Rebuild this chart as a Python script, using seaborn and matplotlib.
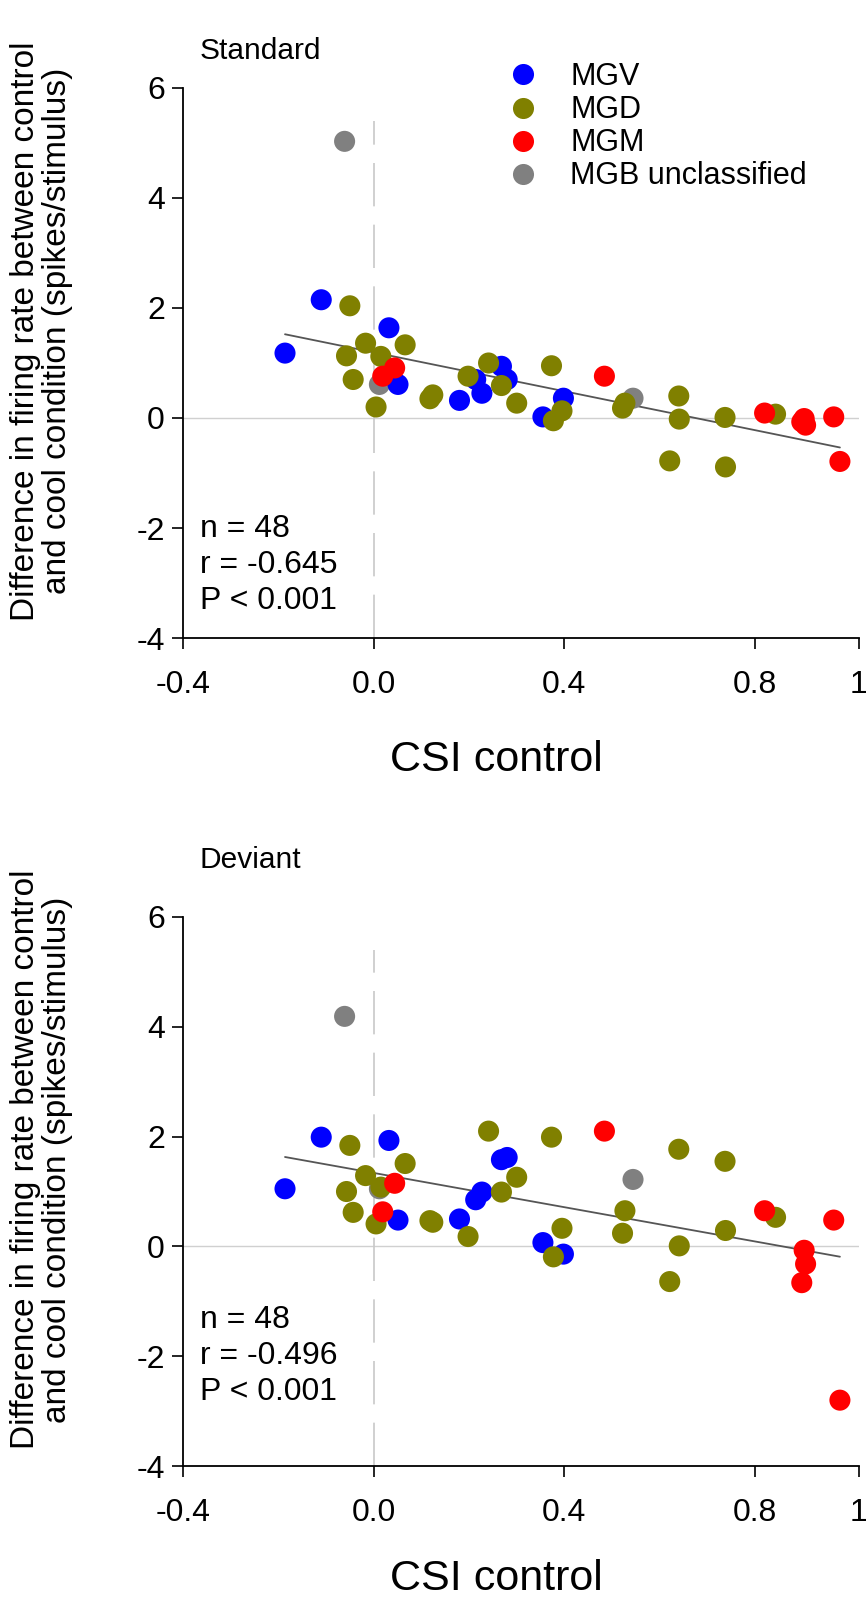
import numpy as np
import pandas as pd
import matplotlib
matplotlib.use("Agg")
import matplotlib.pyplot as plt
import seaborn as sns

# ==============================
# Data
# ==============================
mgv_csi = [-0.186, -0.110, 0.032, 0.051, 0.180, 0.214, 0.227, 0.268, 0.280, 0.355, 0.398]
mgv_std = [1.18, 2.15, 1.64, 0.61, 0.32, 0.70, 0.45, 0.94, 0.70, 0.02, 0.36]
mgv_dev = [1.05, 1.99, 1.93, 0.48, 0.50, 0.85, 0.99, 1.58, 1.62, 0.07, -0.14]

mgd_csi = [-0.050, -0.017, 0.066, -0.057, 0.015, -0.043, 0.005, 0.118, 0.124, 0.198, 0.241, 0.268,
           0.300, 0.373, 0.395, 0.377, 0.522, 0.527, 0.640, 0.641, 0.621, 0.737, 0.738, 0.843]
mgd_std = [2.04, 1.36, 1.33, 1.13, 1.12, 0.70, 0.20, 0.35, 0.42, 0.76, 1.00, 0.59,
           0.27, 0.95, 0.13, -0.05, 0.18, 0.27, 0.40, -0.02, -0.78, 0.01, -0.89, 0.07]
mgd_dev = [1.84, 1.29, 1.51, 1.00, 1.08, 0.62, 0.41, 0.47, 0.44, 0.18, 2.10, 0.99,
           1.26, 1.99, 0.33, -0.19, 0.24, 0.65, 1.77, 0.01, -0.64, 1.55, 0.29, 0.53]

mgm_csi = [0.044, 0.019, 0.484, 0.820, 0.903, 0.906, 0.898, 0.965, 0.978]
mgm_std = [0.91, 0.76, 0.76, 0.09, -0.01, -0.13, -0.07, 0.02, -0.79]
mgm_dev = [1.15, 0.63, 2.10, 0.65, -0.07, -0.32, -0.66, 0.48, -2.80]

unc_csi = [-0.061, 0.012, 0.544]
unc_std = [5.03, 0.61, 0.36]
unc_dev = [4.19, 1.05, 1.22]

groups = ["MGV", "MGD", "MGM", "MGB unclassified"]
colors = {"MGV": "#0000ff", "MGD": "#808000", "MGM": "#ff0000", "MGB unclassified": "#808080"}

# the right end of the x axis sits a little past 1.0 in the original
x_max = 1.018
x_ticks = [-0.4, 0.0, 0.4, 0.8, x_max]
x_ticklabels = ["-0.4", "0.0", "0.4", "0.8", "1"]
y_ticks = [-4, -2, 0, 2, 4, 6]
y_ticklabels = ["-4", "-2", "0", "2", "4", "6"]

stats_std = ["n = 48", "r = -0.645", "P < 0.001"]
stats_dev = ["n = 48", "r = -0.496", "P < 0.001"]

# drawing order: gray, blue, olive, red (red on top)
df = pd.concat([
    pd.DataFrame({"csi": unc_csi, "standard": unc_std, "deviant": unc_dev, "area": "MGB unclassified"}),
    pd.DataFrame({"csi": mgv_csi, "standard": mgv_std, "deviant": mgv_dev, "area": "MGV"}),
    pd.DataFrame({"csi": mgd_csi, "standard": mgd_std, "deviant": mgd_dev, "area": "MGD"}),
    pd.DataFrame({"csi": mgm_csi, "standard": mgm_std, "deviant": mgm_dev, "area": "MGM"}),
], ignore_index=True)

# ==============================
# Style
# ==============================
sns.set_theme(style="white")
plt.rcParams["font.family"] = ["Liberation Sans", "DejaVu Sans"]
for k in ["text.color", "axes.labelcolor", "xtick.color", "ytick.color"]:
    plt.rcParams[k] = "black"

fig = plt.figure(figsize=(8.66, 15.97), dpi=100)
ax_top = fig.add_axes([0.2113, 0.6005, 0.7806, 0.3444])
ax_bot = fig.add_axes([0.2113, 0.0820, 0.7806, 0.3438])

ylabel = "Difference in firing rate between control\nand cool condition (spikes/stimulus)"

panels = [
    # ax, column, title, title y, stats, stats y, xlabel y, legend
    (ax_top, "standard", "Standard", 1.052, stats_std, [0.184, 0.118, 0.053], -0.222, True),
    (ax_bot, "deviant", "Deviant", 1.09, stats_dev, [0.252, 0.186, 0.121], -0.205, False),
]

for ax, col, title, title_y, stats, stat_y, xlab_y, show_legend in panels:
    ax.axhline(0, color="#d0d0d0", lw=1.0, zorder=0)
    ax.axvline(0, ymin=0, ymax=0.94, color="#c8c8c8", lw=1.2, dashes=(26, 11), zorder=0)

    sns.scatterplot(data=df, x="csi", y=col, hue="area", hue_order=groups, palette=colors,
                    s=230, linewidth=0, edgecolor="none", alpha=1, ax=ax, legend=show_legend, zorder=3)
    sns.regplot(data=df, x="csi", y=col, scatter=False, ci=None, truncate=True, ax=ax,
                line_kws={"color": "#555555", "lw": 1.3, "zorder": 2})

    ax.set_xlim(-0.4, x_max)
    ax.set_ylim(-4, 6)
    ax.set_xticks(x_ticks)
    ax.set_xticklabels(x_ticklabels)
    ax.set_yticks(y_ticks)
    ax.set_yticklabels(y_ticklabels)
    ax.tick_params(axis="both", direction="out", length=8, width=1.2, color="black",
                   labelsize=23, bottom=True, left=True)
    ax.tick_params(axis="x", pad=15)
    ax.tick_params(axis="y", pad=5)

    sns.despine(ax=ax)
    for sp in ["left", "bottom"]:
        ax.spines[sp].set_color("black")
        ax.spines[sp].set_linewidth(1.3)

    ax.set_xlabel("CSI control", fontsize=31)
    ax.xaxis.set_label_coords(0.463, xlab_y)
    ax.xaxis.label.set_verticalalignment("center")
    ax.set_ylabel(ylabel, fontsize=24, linespacing=1.05)
    ax.yaxis.set_label_coords(-0.162, 0.558)

    ax.text(0.025, title_y, title, transform=ax.transAxes, fontsize=21.5, ha="left", va="baseline")
    for line, yy in zip(stats, stat_y):
        ax.text(0.025, yy, line, transform=ax.transAxes, fontsize=23, ha="left", va="baseline")

sns.move_legend(ax_top, "upper left", bbox_to_anchor=(0.480, 1.047), frameon=False, title=None,
                fontsize=22, handlelength=1.0, handletextpad=1.05, labelspacing=0.1,
                borderpad=0, borderaxespad=0, markerscale=1.0)

fig.savefig("out.png", dpi=100)
